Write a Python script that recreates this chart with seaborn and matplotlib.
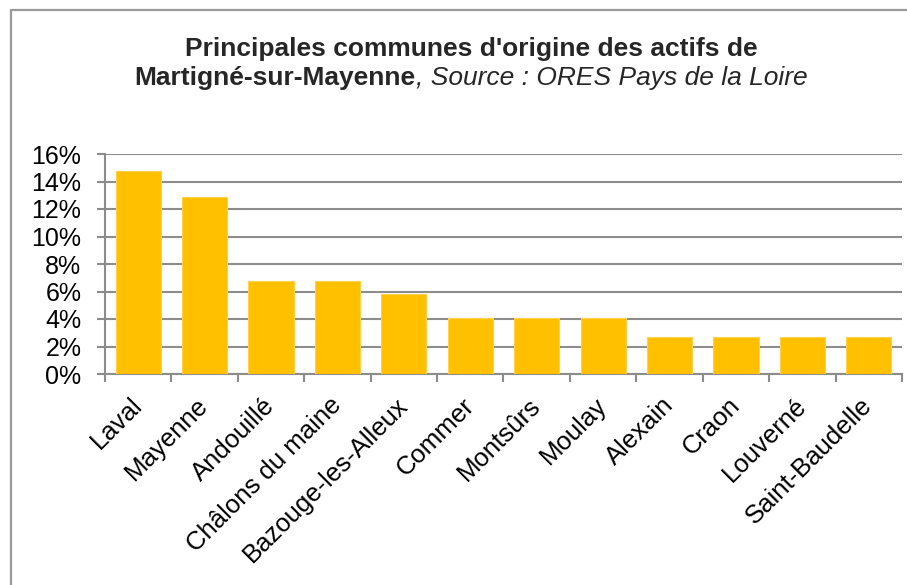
import matplotlib
matplotlib.use("Agg")
import matplotlib.pyplot as plt
from matplotlib.lines import Line2D
from matplotlib.ticker import FixedLocator, PercentFormatter
import seaborn as sns
import pandas as pd

communes = ["Laval", "Mayenne", "Andouillé", "Châlons du maine", "Bazouge-les-Alleux",
            "Commer", "Montsûrs", "Moulay", "Alexain", "Craon", "Louverné", "Saint-Baudelle"]
parts = [14.8, 12.9, 6.8, 6.8, 5.8, 4.1, 4.1, 4.1, 2.7, 2.7, 2.7, 2.7]
y_ticks = [0, 2, 4, 6, 8, 10, 12, 14, 16]

df = pd.DataFrame({"commune": communes, "part": parts})

sns.set_theme(style="white")
plt.rcParams["font.family"] = ["Liberation Sans", "DejaVu Sans"]

W, H = 907, 585
fig = plt.figure(figsize=(W / 100, H / 100), dpi=100)
ax = fig.add_axes([105 / W, 1 - 374 / H, (902 - 105) / W, (374 - 154) / H])

grid_col = "#8c8c8c"
sns.barplot(data=df, x="commune", y="part", ax=ax, color="#FFC000",
            saturation=1, width=0.68, edgecolor="#FFD24D", linewidth=0.8, zorder=3)

ax.set_xlim(-0.5, len(communes) - 0.5)
ax.set_ylim(0, 16)
ax.yaxis.set_major_locator(FixedLocator(y_ticks))
ax.yaxis.set_major_formatter(PercentFormatter(decimals=0))
ax.grid(axis="y", color=grid_col, linewidth=1.5, zorder=0)
ax.set_axisbelow(True)

for s in ["top", "right"]:
    ax.spines[s].set_visible(False)
for s in ["left", "bottom"]:
    ax.spines[s].set_color(grid_col)
    ax.spines[s].set_linewidth(1.5)

# tick marks between categories, labels at the centers
ax.xaxis.set_major_locator(FixedLocator([i - 0.5 for i in range(len(communes) + 1)]))
ax.xaxis.set_minor_locator(FixedLocator(list(range(len(communes)))))
ax.set_xticklabels([], minor=False)
ax.set_xticklabels(communes, minor=True, rotation=45, ha="right", va="center",
                   rotation_mode="anchor", fontsize=18.5, color="black")
ax.tick_params(axis="x", which="major", bottom=True, length=6, width=1.5, color=grid_col)
ax.tick_params(axis="x", which="minor", bottom=True, length=0, pad=20)
ax.tick_params(axis="y", left=True, length=6, width=1.5, color=grid_col,
               labelsize=18, labelcolor="black", pad=11)
ax.set_xlabel("")
ax.set_ylabel("")

# title, first line bold, second line mixes bold and italic
cx = 471 / W
title_size = 19
fig.text(cx, 1 - 56 / H, "Principales communes d'origine des actifs de",
         ha="center", va="baseline", fontsize=title_size, fontweight="bold")
renderer = fig.canvas.get_renderer()
t1 = fig.text(0, 1 - 85 / H, "Martigné-sur-Mayenne", ha="left", va="baseline",
              fontsize=title_size, fontweight="bold")
t2 = fig.text(0, 1 - 85 / H, ", Source : ORES Pays de la Loire", ha="left",
              va="baseline", fontsize=title_size, fontstyle="italic")
w1 = t1.get_window_extent(renderer).width / W
w2 = t2.get_window_extent(renderer).width / W
x0 = cx - (w1 + w2) / 2
t1.set_x(x0)
t2.set_x(x0 + w1)

# chart frame
frame_col = "#9a9a9a"
fig.add_artist(Line2D([11 / W, 11 / W], [0, 1 - 10 / H], color=frame_col, linewidth=1.6,
                      transform=fig.transFigure))
fig.add_artist(Line2D([11 / W, 1], [1 - 10 / H, 1 - 10 / H], color=frame_col, linewidth=1.6,
                      transform=fig.transFigure))

fig.savefig("out.png", dpi=100)
